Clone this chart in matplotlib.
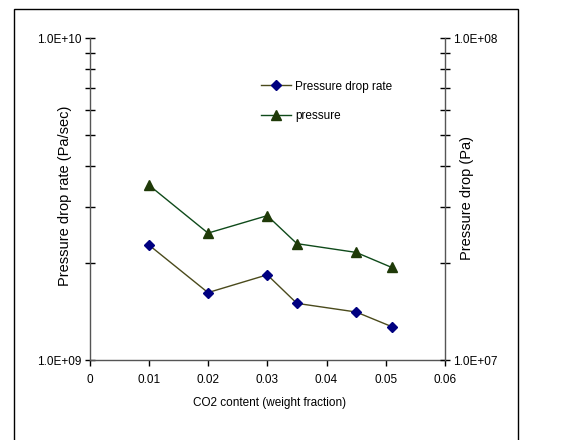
import numpy as np
import matplotlib as mpl
mpl.use('Agg')
import matplotlib.pyplot as plt
from matplotlib.patches import Rectangle
from matplotlib.lines import Line2D

plt.rcParams['font.family'] = ['Liberation Sans', 'DejaVu Sans']

# data
co2 = [0.01, 0.02, 0.03, 0.035, 0.045, 0.051]
drop_rate = [2.28e9, 1.62e9, 1.84e9, 1.50e9, 1.41e9, 1.27e9]   # Pa/sec, left axis
pressure = [3.50e7, 2.48e7, 2.81e7, 2.30e7, 2.16e7, 1.94e7]    # Pa, right axis
xticks = [0, 0.01, 0.02, 0.03, 0.04, 0.05, 0.06]
xticklabels = ['0', '0.01', '0.02', '0.03', '0.04', '0.05', '0.06']

fs = 8.5
W, H = 584, 440
fig = plt.figure(figsize=(W/100, H/100), dpi=100)
ax = fig.add_axes([89.5/W, 1 - 360/H, (445-89.5)/W, (360-38.3)/H])
ax2 = ax.twinx()

# outer frame like the excel chart area
fig.patches.append(Rectangle((14/W, -0.05), (518-14)/W, 1 - 9/H + 0.05,
                             transform=fig.transFigure, fill=False,
                             edgecolor='black', lw=1.0))

ax.plot(co2, drop_rate, color='#4a4a1c', lw=1.0, marker='D', ms=5.5,
        mfc='#000080', mec='#000080', zorder=3)
ax2.plot(co2, pressure, color='#0f4a1a', lw=1.0, marker='^', ms=7,
         mfc='#1f3a08', mec='#1f3a08', zorder=3)

ax.set_yscale('log')
ax2.set_yscale('log')
ax.set_ylim(1e9, 1e10)
ax2.set_ylim(1e7, 1e8)
ax.set_xlim(0, 0.06)

ax.set_xticks(xticks)
ax.set_xticklabels(xticklabels, fontsize=fs)
ax.set_yticks([1e9, 1e10])
ax.set_yticklabels(['1.0E+09', '1.0E+10'], fontsize=fs)
ax2.set_yticks([1e7, 1e8])
ax2.set_yticklabels(['1.0E+07', '1.0E+08'], fontsize=fs)

ax.yaxis.set_minor_locator(mpl.ticker.LogLocator(base=10, subs=np.arange(2, 10)))
ax.yaxis.set_minor_formatter(mpl.ticker.NullFormatter())
ax2.yaxis.set_minor_locator(mpl.ticker.LogLocator(base=10, subs=np.arange(2, 10)))
ax2.yaxis.set_minor_formatter(mpl.ticker.NullFormatter())

ax.tick_params(axis='y', which='both', direction='inout', length=7, width=1, pad=2)
ax2.tick_params(axis='y', which='both', direction='inout', length=7, width=1, pad=2)
ax.tick_params(axis='x', direction='out', length=4, width=1, pad=6)

for a in (ax, ax2):
    a.spines['top'].set_visible(False)
    for s in ('left', 'right', 'bottom'):
        a.spines[s].set_color('#555555')
        a.spines[s].set_linewidth(1.0)
ax.spines['right'].set_visible(False)
ax2.spines['left'].set_visible(False)
ax2.spines['bottom'].set_visible(False)

# axis titles placed where they sit in the picture
fig.text(270/W, 1 - 403/H, 'CO2 content (weight fraction)', fontsize=fs,
         ha='center', va='center')
fig.text(65/W, 1 - 196/H, 'Pressure drop rate (Pa/sec)', fontsize=10.5,
         rotation=90, ha='center', va='center')
fig.text(467/W, 1 - 198/H, 'Pressure drop (Pa)', fontsize=10.5,
         rotation=90, ha='center', va='center')

handles = [Line2D([], [], color='#4a4a1c', lw=1.0, marker='D', ms=5.5,
                  mfc='#000080', mec='#000080'),
           Line2D([], [], color='#0f4a1a', lw=1.0, marker='^', ms=7,
                  mfc='#1f3a08', mec='#1f3a08')]
fig.legend(handles, ['Pressure drop rate', 'pressure'], loc='upper left',
           bbox_to_anchor=(250/W, 1 - 70/H), frameon=False, fontsize=fs,
           handlelength=2.6, handletextpad=0.3, labelspacing=1.45)

plt.savefig('out.png', dpi=100)
